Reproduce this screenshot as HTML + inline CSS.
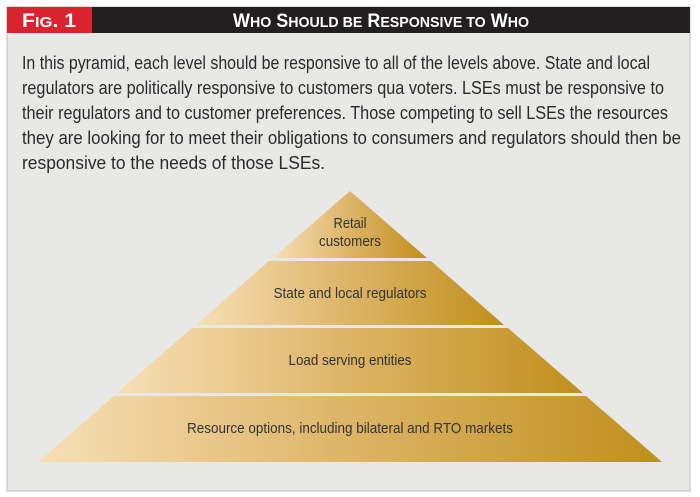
<!DOCTYPE html>
<html><head><meta charset="utf-8"><style>
html,body{margin:0;padding:0;background:#fff;}
svg{display:block;}
</style></head><body>
<svg width="700" height="497" viewBox="0 0 700 497" xmlns="http://www.w3.org/2000/svg">
<defs>
<linearGradient id="g1" x1="0" y1="0" x2="1" y2="0"><stop offset="0" stop-color="#f7dfb6"/><stop offset="0.5" stop-color="#ddb466"/><stop offset="1" stop-color="#bf8f1c"/></linearGradient>
</defs>
<rect x="7" y="7" width="683" height="484" fill="#e8e8e6" stroke="#bdbdbd" stroke-width="1"/>
<rect x="7" y="7" width="85" height="26" fill="#d9232e"/>
<rect x="92" y="7" width="598" height="26" fill="#231f20"/>
<text x="49" y="27" text-anchor="middle" fill="#fff" font-family="Liberation Sans Narrow, Liberation Sans, sans-serif" font-weight="bold" font-size="19" textLength="54" lengthAdjust="spacingAndGlyphs">F<tspan font-size="15">IG</tspan>. 1</text>
<text x="381" y="27" text-anchor="middle" fill="#fff" font-family="Liberation Sans Narrow, Liberation Sans, sans-serif" font-weight="bold" font-size="19" textLength="296" lengthAdjust="spacingAndGlyphs">W<tspan font-size="15">HO</tspan> S<tspan font-size="15">HOULD BE</tspan> R<tspan font-size="15">ESPONSIVE TO</tspan> W<tspan font-size="15">HO</tspan></text>
<g font-family="Liberation Sans Narrow, Liberation Sans, sans-serif" font-size="18" fill="#2b2b2b" lengthAdjust="spacingAndGlyphs">
<text x="22" y="69" textLength="628" lengthAdjust="spacingAndGlyphs">In this pyramid, each level should be responsive to all of the levels above. State and local</text>
<text x="22" y="94" textLength="642" lengthAdjust="spacingAndGlyphs">regulators are politically responsive to customers qua voters. LSEs must be responsive to</text>
<text x="22" y="119" textLength="646" lengthAdjust="spacingAndGlyphs">their regulators and to customer preferences. Those competing to sell LSEs the resources</text>
<text x="22" y="144" textLength="659" lengthAdjust="spacingAndGlyphs">they are looking for to meet their obligations to consumers and regulators should then be</text>
<text x="22" y="169" textLength="303" lengthAdjust="spacingAndGlyphs">responsive to the needs of those LSEs.</text>
</g>
<polygon points="350,191 427,258 273,258" fill="url(#g1)"/>
<polygon points="269,261 431,261 504,325 196,325" fill="url(#g1)"/>
<polygon points="192,328 508,328 583,393 117,393" fill="url(#g1)"/>
<polygon points="114,396 586,396 662,462 38,462" fill="url(#g1)"/>
<g font-family="Liberation Sans Narrow, Liberation Sans, sans-serif" font-size="15" fill="#333" text-anchor="middle">
<text x="350" y="228" textLength="33" lengthAdjust="spacingAndGlyphs">Retail</text>
<text x="350" y="246" textLength="62" lengthAdjust="spacingAndGlyphs">customers</text>
<text x="350" y="298" textLength="153" lengthAdjust="spacingAndGlyphs">State and local regulators</text>
<text x="350" y="365" textLength="123" lengthAdjust="spacingAndGlyphs">Load serving entities</text>
<text x="350" y="433" textLength="326" lengthAdjust="spacingAndGlyphs">Resource options, including bilateral and RTO markets</text>
</g>
</svg>
</body></html>
